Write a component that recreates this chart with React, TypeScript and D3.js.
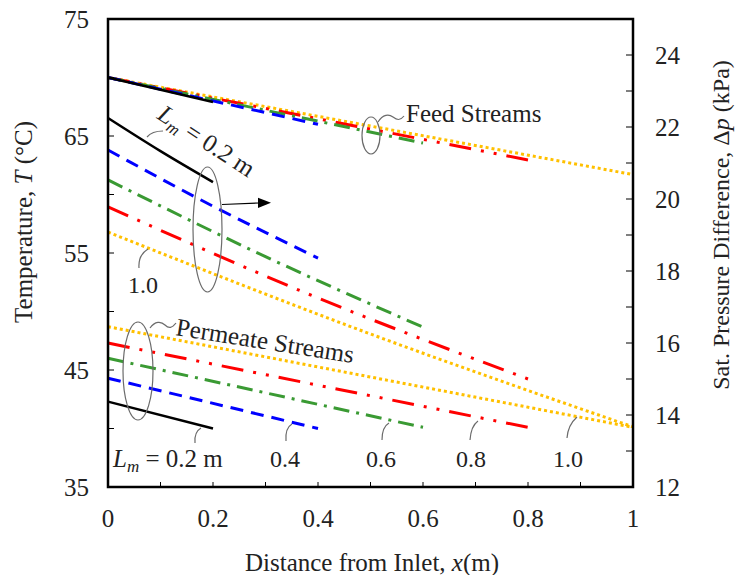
import React from "react";
import * as d3 from "d3";

// Module lengths L_m (m) and the temperature / pressure profiles along x
const moduleLengths = [0.2, 0.4, 0.6, 0.8, 1.0];
const lengthLabels = ["0.2 m", "0.4", "0.6", "0.8", "1.0"];

// Feed stream temperature (°C) at inlet and outlet
const feedInletT = [70.0, 70.0, 70.0, 70.0, 70.0];
const feedOutletT = [67.9, 66.0, 64.4, 62.95, 61.7];

// Permeate stream temperature (°C) at x = 0 and x = L_m
const permeateInletT = [42.3, 44.3, 46.0, 47.3, 48.7];
const permeateOutletT = [40.0, 40.0, 40.1, 40.1, 40.1];

// Saturation pressure difference (kPa) at x = 0, L_m/2, L_m
const dpInlet = [22.25, 21.36, 20.53, 19.78, 19.08];
const dpMid = [21.33, 19.8, 18.4, 17.25, 16.25];
const dpOutlet = [20.47, 18.36, 16.44, 15.0, 13.67];

// Axis ticks
const xTickLabels = [0, 0.2, 0.4, 0.6, 0.8, 1];
const tTickLabels = [35, 45, 55, 65, 75];
const pTickLabels = [12, 14, 16, 18, 20, 22, 24];

// Series styling
const lineColors = ["#000000", "#0000FF", "#3A9A33", "#FF0000", "#FFC000"];
const dashPatterns = ["none", "13 8", "16 7 3 7", "22 10 3 10 3 10", "3 3"];
const lineWidths = [2.5, 3, 3, 3, 3];

const W = 737;
const H = 575;
const FONT = "'Liberation Serif', 'Times New Roman', Times, serif";
const GRAY = "#6b6b6b";

export default function App() {
  const x = d3.scaleLinear().domain([0, 1]).range([108, 633]);
  const yT = d3.scaleLinear().domain([35, 75]).range([487, 19]);
  const yP = d3.scaleLinear().domain([12, 25]).range([487, 19]);

  const lineT = d3
    .line<[number, number]>()
    .x((d) => x(d[0]))
    .y((d) => yT(d[1]));
  const lineP = d3
    .line<[number, number]>()
    .x((d) => x(d[0]))
    .y((d) => yP(d[1]))
    .curve(d3.curveMonotoneX);

  const order = [4, 3, 2, 1, 0];

  const feedPaths = order.map((i) =>
    lineT([
      [0, feedInletT[i]],
      [moduleLengths[i], feedOutletT[i]],
    ])
  );
  const permeatePaths = order.map((i) =>
    lineT([
      [0, permeateInletT[i]],
      [moduleLengths[i], permeateOutletT[i]],
    ])
  );
  const dpPaths = order.map((i) =>
    lineP([
      [0, dpInlet[i]],
      [moduleLengths[i] / 2, dpMid[i]],
      [moduleLengths[i], dpOutlet[i]],
    ])
  );

  const xMinor = d3.range(0, 11).map((k) => k / 10);
  const tMinor = d3.range(35, 76, 5);
  const pMinor = d3.range(12, 26, 1);

  const styleFor = (i: number) => ({
    stroke: lineColors[i],
    strokeWidth: lineWidths[i],
    strokeDasharray: dashPatterns[i],
    fill: "none",
  });

  // bottom labels under the permeate lines
  const bottomLabelX = [null, 285, 381, 471, 568];
  const bottomLeaders = [
    "M201,428 Q194,432 195,443",
    "M292,424 Q285,428 286,441",
    "M389,423 Q382,427 382,440",
    "M478,421 Q471,426 470,440",
    "M577,417 Q568,425 567,438",
  ];

  return (
    <svg
      width={W}
      height={H}
      style={{ position: "absolute", left: 0, top: 0, background: "#fff" }}
      fontFamily={FONT}
    >
      <rect x={0} y={0} width={W} height={H} fill="#fff" />

      {/* data lines */}
      <g>
        {order.map((i, k) => (
          <path key={"dp" + i} d={dpPaths[k] || ""} style={styleFor(i)} />
        ))}
        {order.map((i, k) => (
          <path key={"pm" + i} d={permeatePaths[k] || ""} style={styleFor(i)} />
        ))}
        {order.map((i, k) => (
          <path key={"fd" + i} d={feedPaths[k] || ""} style={styleFor(i)} />
        ))}
      </g>

      {/* plot frame */}
      <rect x={108} y={19} width={525} height={468} fill="none" stroke="#000" strokeWidth={2.5} />

      {/* ticks */}
      <g stroke="#000" strokeWidth={1}>
        {xMinor.map((v) => (
          <line key={"xt" + v} x1={x(v)} x2={x(v)} y1={487} y2={482} />
        ))}
        {tMinor.map((v) => (
          <line key={"tt" + v} x1={108} x2={114} y1={yT(v)} y2={yT(v)} />
        ))}
        {pMinor.map((v) => (
          <line key={"pt" + v} x1={633} x2={626} y1={yP(v)} y2={yP(v)} />
        ))}
      </g>

      {/* tick labels */}
      <g fontSize={25} fill="#222">
        {xTickLabels.map((v) => (
          <text key={"xl" + v} x={x(v)} y={527} textAnchor="middle">
            {String(v)}
          </text>
        ))}
        {tTickLabels.map((v) => (
          <text key={"tl" + v} x={89} y={yT(v)} dy="0.35em" textAnchor="end">
            {v}
          </text>
        ))}
        {pTickLabels.map((v) => (
          <text key={"pl" + v} x={655} y={yP(v)} dy="0.35em" textAnchor="start">
            {v}
          </text>
        ))}
      </g>

      {/* axis titles */}
      <g fill="#222">
        <text x={372} y={571} fontSize={25} textAnchor="middle">
          Distance from Inlet, <tspan fontStyle="italic">x</tspan>(m)
        </text>
        <text transform="translate(32,222) rotate(-90)" fontSize={25} textAnchor="middle">
          Temperature, <tspan fontStyle="italic">T</tspan> (°C)
        </text>
        <text transform="translate(729,225) rotate(-90)" fontSize={24} textAnchor="middle">
          Sat. Pressure Difference, Δ<tspan fontStyle="italic">p</tspan> (kPa)
        </text>
      </g>

      {/* annotations */}
      <g fill="none" stroke={GRAY} strokeWidth={1.2}>
        {/* feed streams */}
        <ellipse cx={371} cy={135.5} rx={9} ry={18.5} />
        <path d="M378,122 C383,114 389,114 393,117 S400,121 404,116" />
        {/* pressure difference group */}
        <ellipse cx={207.5} cy={229.5} rx={14.5} ry={62.5} />
        <path d="M147,137 Q152,131 163,131" />
        <path d="M139,268 Q138,255 148,249" />
        {/* permeate streams */}
        <ellipse cx={138} cy={371} rx={15} ry={49} />
        <path d="M150,328 C155,321 161,321 165,325 S172,328 176,323" />
        {bottomLeaders.map((d, i) => (
          <path key={"bl" + i} d={d} />
        ))}
      </g>

      {/* arrow pointing to the right-hand axis */}
      <line x1={222} y1={204.5} x2={259} y2={203} stroke="#000" strokeWidth={1.2} />
      <path d="M271,202.7 L258,197.7 L258,207.9 Z" fill="#000" />

      <g fill="#222" fontSize={25}>
        <text x={406} y={122}>Feed Streams</text>
        <text transform="translate(175,335) rotate(9)">Permeate Streams</text>
        <text transform="translate(156,118) rotate(33)">
          <tspan fontStyle="italic">L</tspan>
          <tspan fontStyle="italic" fontSize={17} dy={5}>m</tspan>
          <tspan dy={-5}> = 0.2 m</tspan>
        </text>
        <text x={128} y={293} fontSize={24}>1.0</text>
        <text x={113} y={467}>
          <tspan fontStyle="italic">L</tspan>
          <tspan fontStyle="italic" fontSize={17} dy={5}>m</tspan>
          <tspan dy={-5}> = {lengthLabels[0]}</tspan>
        </text>
        {bottomLabelX.map((cx, i) =>
          cx === null ? null : (
            <text key={"lbl" + i} x={cx} y={467} textAnchor="middle" fontSize={24}>
              {lengthLabels[i]}
            </text>
          )
        )}
      </g>
    </svg>
  );
}
